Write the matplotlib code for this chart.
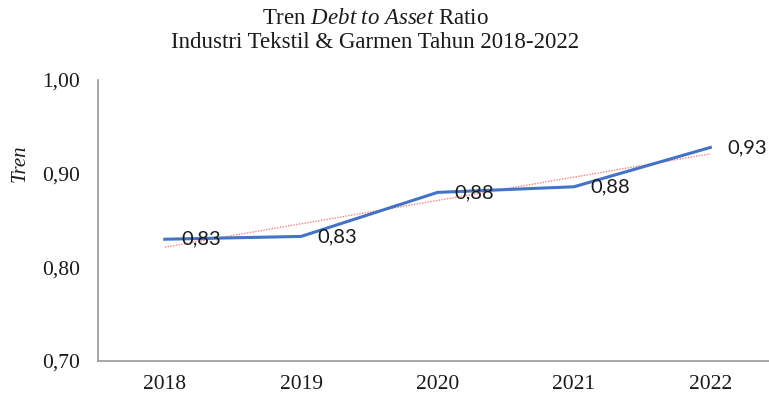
import numpy as np
import matplotlib
matplotlib.use("Agg")
import matplotlib.pyplot as plt

# Data
years = ["2018", "2019", "2020", "2021", "2022"]
ratio = [0.830, 0.833, 0.880, 0.886, 0.928]
labels = ["0,83", "0,83", "0,88", "0,88", "0,93"]
y_ticks = [0.70, 0.80, 0.90, 1.00]
y_tick_labels = ["0,70", "0,80", "0,90", "1,00"]

plt.rcParams["font.family"] = "Liberation Serif"
plt.rcParams["mathtext.fontset"] = "custom"
plt.rcParams["mathtext.rm"] = "Liberation Serif"
plt.rcParams["mathtext.it"] = "Liberation Serif:italic"

fig = plt.figure(figsize=(7.69, 4.01), dpi=100)
ax = fig.add_axes([0.1274, 0.0998, 0.8726, 0.7007])

x = np.arange(len(years))

# linear trend line (Excel style)
coef = np.polyfit(x, ratio, 1)
ax.plot(x, np.polyval(coef, x), color="#F08080", lw=1.0, ls=(0, (1, 1)), zorder=2)

# main series
ax.plot(x, ratio, color="#4472C4", lw=2.2, zorder=3)

for xi, yi, lab in zip(x, ratio, labels):
    ax.annotate(lab, (xi, yi), xytext=(12, 0), textcoords="offset points",
                ha="left", va="center", fontsize=14.5, family="Lato",
                color="#1a1a1a", zorder=4)

ax.set_xlim(-0.49, 4.43)
ax.set_ylim(0.70, 1.00)
ax.set_xticks(x)
ax.set_xticklabels(years)
ax.set_yticks(y_ticks)
ax.set_yticklabels(y_tick_labels)
ax.tick_params(axis="both", length=0, labelsize=15.5, colors="#1a1a1a")
ax.tick_params(axis="y", pad=13)
ax.tick_params(axis="x", pad=10)

for side in ["top", "right"]:
    ax.spines[side].set_visible(False)
for side in ["left", "bottom"]:
    ax.spines[side].set_color("#999999")
    ax.spines[side].set_linewidth(1.2)

fig.text(20 / 769, 1 - 163 / 401, "Tren", rotation=90, style="italic",
         fontsize=15, ha="center", va="center", color="#1a1a1a")

fig.text(375 / 769, 1 - 19 / 401, r"Tren $\it{Debt\ to\ Asset}$ Ratio",
         fontsize=16.5, ha="center", va="center", color="#1a1a1a")
fig.text(375 / 769, 1 - 43 / 401, "Industri Tekstil & Garmen Tahun 2018-2022",
         fontsize=16.5, ha="center", va="center", color="#1a1a1a")

fig.savefig("out.png", dpi=100)
